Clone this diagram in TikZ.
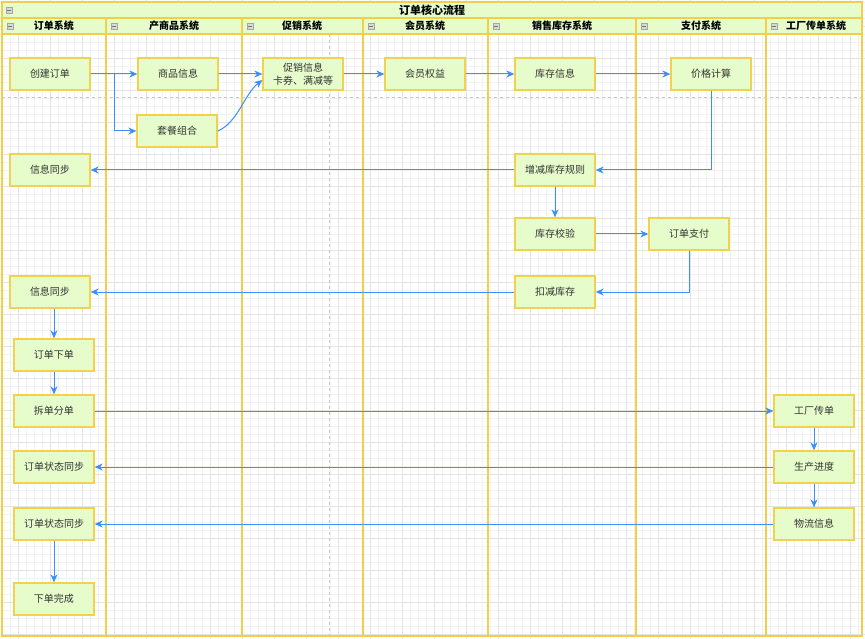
\documentclass[tikz,border=0pt]{standalone}
\usepackage{fontspec}
\setmainfont{Noto Sans CJK SC}
\usetikzlibrary{arrows.meta}

\definecolor{laneline}{HTML}{F2CE4B}
\definecolor{boxfill}{HTML}{E6FCCB}
\definecolor{boxline}{HTML}{F0D24E}
\definecolor{flowblue}{HTML}{3A8FFA}
\definecolor{txt}{HTML}{333333}
\definecolor{gridlo}{HTML}{F2F2F2}
\definecolor{gridhi}{HTML}{E4E4E4}

\begin{document}
\begin{tikzpicture}[
    x=1pt, y=-1pt,
    >={Stealth[length=8pt,width=7pt,inset=2.5pt]},
    box/.style={draw=boxline, fill=boxfill, line width=1.3pt,
      minimum width=80pt, minimum height=32pt, inner sep=0pt,
      text=txt, align=center, font=\fontsize{10}{12.5}\selectfont},
    flow/.style={->, draw=flowblue, line width=1pt},
    lane/.style={draw=laneline, line width=1.6pt},
    hdr/.style={font=\bfseries\fontsize{10}{11}\selectfont, text=black},
    minus/.style={draw=gray!70, fill=gray!30, line width=0.5pt}
    ]

    \useasboundingbox (0,0) rectangle (865,639);
    \fill[white] (0,0) rectangle (865,639);

    \foreach \gx in {2,10,...,865}
      \draw[gridlo, line width=0.7pt] (\gx,0) -- (\gx,639);
    \foreach \gy in {2,10,...,639}
      \draw[gridlo, line width=0.7pt] (0,\gy) -- (865,\gy);
    \foreach \gx in {18,50,...,865}
      \draw[gridhi, line width=0.9pt] (\gx,0) -- (\gx,639);
    \foreach \gy in {26,58,...,639}
      \draw[gridhi, line width=0.9pt] (0,\gy) -- (865,\gy);

    \draw[gray!45, dashed, line width=0.6pt] (2,97) -- (862,97);
    \draw[gray!45, dashed, line width=0.6pt] (329,34) -- (329,636);

    \fill[boxfill] (2,2) rectangle (862,34);
    \draw[lane] (2,2) rectangle (862,636);
    \draw[lane] (2,18) -- (862,18);
    \draw[lane] (2,34) -- (862,34);
    \foreach \lx in {106,242,363,488,636,766}
      \draw[lane] (\lx,18) -- (\lx,636);

    \node[hdr, font=\bfseries\fontsize{11}{12}\selectfont] (title) at (432,10) {订单核心流程};
    \draw[minus] (6,7) rectangle (12,13);
    \draw[gray!90!black, line width=0.6pt] (7,10) -- (11,10);

    \foreach \lx/\cx/\name [count=\i] in {2/54/订单系统, 106/174/产商品系统,
        242/302/促销系统, 363/425/会员系统, 488/562/销售库存系统,
        636/701/支付系统, 766/816/工厂传单系统} {
      \node[hdr] (hdr\i) at (\cx,26) {\name};
      \draw[minus] (\lx+5,23) rectangle (\lx+11,29);
      \draw[gray!90!black, line width=0.6pt] (\lx+6,26) -- (\lx+10,26);
    }

    \node[box] (create) at (50,74) {创建订单};
    \node[box] (goods) at (178,74) {商品信息};
    \node[box] (combo) at (177,131) {套餐组合};
    \node[box] (promo) at (303,74) {促销信息\\卡券、满减等};
    \node[box] (member) at (425,74) {会员权益};
    \node[box] (stockinfo) at (555,74) {库存信息};
    \node[box] (price) at (711,74) {价格计算};
    \node[box] (sync1) at (50,170) {信息同步};
    \node[box] (rule) at (555,170) {增减库存规则};
    \node[box] (check) at (555,234) {库存校验};
    \node[box] (pay) at (689,234) {订单支付};
    \node[box] (sync2) at (50,292) {信息同步};
    \node[box] (deduct) at (555,292) {扣减库存};
    \node[box] (place) at (54,355) {订单下单};
    \node[box] (split) at (54,411) {拆单分单};
    \node[box] (status1) at (54,467) {订单状态同步};
    \node[box] (status2) at (54,524) {订单状态同步};
    \node[box] (done) at (54,599) {下单完成};
    \node[box] (factory) at (814,411) {工厂传单};
    \node[box] (progress) at (814,467) {生产进度};
    \node[box] (logistics) at (814,524) {物流信息};

    \draw[flow] (create) -- (goods);
    \draw[flow] (create.east) -- ++(24,0) |- (combo);
    \draw[flow] (goods) -- (promo);
    \draw[flow] (combo.east) .. controls +(20,-8) and +(-18,14) .. ([yshift=-6pt]promo.west);
    \draw[flow] (promo) -- (member);
    \draw[flow] (member) -- (stockinfo);
    \draw[flow] (stockinfo) -- (price);
    \draw[flow] (price) |- (rule);
    \draw[flow] (rule) -- (sync1);
    \draw[flow] (rule) -- (check);
    \draw[flow] (check) -- (pay);
    \draw[flow] (pay) |- (deduct);
    \draw[flow] (deduct) -- (sync2);
    \draw[flow] (place.north |- sync2.south) -- (place);
    \draw[flow] (place) -- (split);
    \draw[flow] (split) -- (factory);
    \draw[flow] (factory) -- (progress);
    \draw[flow] (progress) -- (logistics);
    \draw[flow] (progress) -- (status1);
    \draw[flow] (logistics) -- (status2);
    \draw[flow] (status2) -- (done);

\end{tikzpicture}
\end{document}
